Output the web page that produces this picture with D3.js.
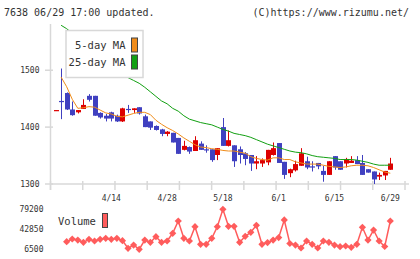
<!DOCTYPE html>
<html>
<head>
<meta charset="utf-8">
<script src="https://cdn.jsdelivr.net/npm/d3@7"></script>
<style>
body { margin: 0; background: #fff; }
text { font-family: "DejaVu Sans Mono", monospace; fill: #333; }
</style>
</head>
<body>
<script>
// trading days 2020/3/31 - 6/29
var dates = ["3/31","4/1","4/2","4/3","4/6","4/7","4/8","4/9","4/10","4/13",
  "4/14","4/15","4/16","4/17","4/20","4/21","4/22","4/23","4/24","4/27",
  "4/28","4/30","5/1","5/7","5/8","5/11","5/12","5/13","5/14","5/15",
  "5/18","5/19","5/20","5/21","5/22","5/25","5/26","5/27","5/28","5/29",
  "6/1","6/2","6/3","6/4","6/5","6/8","6/9","6/10","6/11","6/12",
  "6/15","6/16","6/17","6/18","6/19","6/22","6/23","6/24","6/25","6/26",
  "6/29"];
var labelDates = ["4/14","4/28","5/18","6/1","6/15","6/29"];

var open  = [1429,1446,1460,1431,1426,1432,1455,1455,1425,1420,1426,1420,1410,1432,1430,1435,1419,1410,1402,1396,
             1388,1390,1381,1360,1365,1358,1371,1361,1361,1351,1400,1367,1368,1361,1354,1351,1336,1336,1338,1351,
             1372,1339,1319,1324,1332,1340,1331,1337,1323,1316,1349,1340,1336,1337,1342,1337,1326,1322,1313,1315,1325];
var high  = [1430,1503,1461,1445,1430,1449,1458,1455,1426,1423,1427,1422,1434,1439,1433,1435,1422,1410,1403,1397,
             1393,1390,1381,1376,1366,1384,1375,1368,1361,1363,1416,1394,1368,1366,1356,1351,1349,1345,1360,1373,
             1372,1339,1327,1341,1363,1348,1340,1337,1332,1340,1349,1340,1346,1349,1349,1351,1326,1322,1320,1323,1346];
var low   = [1429,1414,1430,1420,1424,1432,1445,1420,1415,1410,1410,1409,1409,1425,1425,1422,1400,1395,1394,1384,
             1384,1373,1353,1359,1353,1358,1360,1355,1339,1342,1367,1366,1330,1336,1333,1323,1326,1330,1333,1350,
             1337,1309,1312,1322,1332,1326,1322,1326,1304,1316,1325,1325,1329,1337,1335,1316,1320,1300,1307,1307,1325];
var close = [1430,1445,1431,1421,1430,1439,1448,1420,1417,1415,1415,1410,1433,1431,1433,1424,1400,1399,1395,1388,
             1392,1373,1353,1367,1357,1377,1360,1359,1342,1363,1367,1377,1340,1351,1344,1336,1340,1342,1360,1363,
             1337,1316,1326,1335,1354,1329,1329,1331,1316,1340,1329,1325,1344,1341,1335,1316,1320,1308,1316,1323,1336];

var ma5 = [null,1488,1471,1449,1433,1434,1436,1435,1430,1425,1423,1419,1418,1421,1424,1426,1426,1422,1412,1405,
           1399,1394,1388,1381,1375,1369,1365,1364,1362,1361,1359,1358,1358,1356,1354,1348,1345,1343,1342,1346,
           1346,1343,1343,1339,1337,1335,1335,1335,1333,1331,1330,1329,1330,1332,1333,1333,1332,1329,1325,1321,1319];
var ma25 = [null,1579,1573,1565,1557,1549,1541,1533,1525,1518,1509,1501,1493,1487,1482,1477,1470,1462,1454,1446,
            1441,1433,1428,1420,1414,1411,1408,1406,1404,1400,1396,1393,1389,1387,1385,1382,1378,1374,1370,1367,
            1364,1361,1358,1356,1355,1353,1350,1348,1347,1346,1345,1343,1343,1343,1342,1340,1338,1335,1333,1333,1333];

var volume = [null,null,19000,24000,22100,17900,23400,20300,23400,25300,23400,25300,20900,6900,12900,5000,22100,17900,28200,17900,
              20300,34500,57100,25300,20300,46600,14200,14200,25300,46600,78600,47400,47400,17900,29000,36300,49200,14200,17500,22100,
              26700,59000,15700,12900,7400,20300,14200,7400,20300,17900,12900,9800,11100,8700,14200,45500,22100,40500,20300,10200,57100];

var priceTicks = [1300, 1400, 1500];
var volumeTicks = [6500, 42850, 79200];

var upColor = "#dd0000";
var downColor = "#4040c0";
var ma5Color = "#f08c1a";
var ma25Color = "#12a012";
var volColor = "#ff5c5c";
var axisColor = "#d8d8d8";

var width = 420, height = 259;

var svg = d3.select("body").append("svg")
  .attr("width", width)
  .attr("height", height);

var x = d3.scaleLinear().domain([0, dates.length - 1]).range([55.5, 390.3]);
var y = d3.scaleLinear().domain([1300, 1579.5]).range([184, 25]);
var vy = d3.scaleLinear().domain([6500, 79200]).range([248.5, 209]);
// decorative tick marks under the price panel
var gx = d3.scaleLinear().domain([0, 11]).range([50.5, 405]);

// header
svg.append("text").attr("x", 4).attr("y", 16).attr("font-size", 10).text("7638 06/29 17:00 updated.");
svg.append("text").attr("x", 409).attr("y", 16).attr("font-size", 10).attr("text-anchor", "end")
  .text("(C)https://www.rizumu.net/");

// axes
svg.append("line").attr("x1", 50.5).attr("x2", 50.5).attr("y1", 24).attr("y2", 190)
  .attr("stroke", axisColor).attr("stroke-width", 1.5);
svg.append("line").attr("x1", 50).attr("x2", 409).attr("y1", y(1300)).attr("y2", y(1300))
  .attr("stroke", axisColor).attr("stroke-width", 1.5);

d3.range(12).forEach(function(i) {
  svg.append("line").attr("x1", gx(i)).attr("x2", gx(i)).attr("y1", 181).attr("y2", 190)
    .attr("stroke", axisColor).attr("stroke-width", 1.5);
});

priceTicks.forEach(function(t) {
  svg.append("line").attr("x1", 45).attr("x2", 53).attr("y1", y(t)).attr("y2", y(t))
    .attr("stroke", axisColor).attr("stroke-width", 1.5);
  svg.append("text").attr("x", 39.5).attr("y", y(t) + 3).attr("font-size", 8)
    .attr("text-anchor", "end").attr("letter-spacing", 0).text(t);
});

labelDates.forEach(function(d) {
  var i = dates.indexOf(d);
  svg.append("text").attr("x", x(i)).attr("y", 200.5).attr("font-size", 8)
    .attr("text-anchor", "middle").text(d);
});

// candles
var candles = svg.append("g");
dates.forEach(function(d, i) {
  var up = close[i] >= open[i];
  var col = up ? upColor : downColor;
  var cx = Math.round(x(i)) + 0.5;
  candles.append("line")
    .attr("x1", cx).attr("x2", cx)
    .attr("y1", y(high[i])).attr("y2", y(low[i]))
    .attr("stroke", col).attr("stroke-width", 1);
  var top = y(Math.max(open[i], close[i]));
  var bot = y(Math.min(open[i], close[i]));
  candles.append("rect")
    .attr("x", cx - 2.5).attr("width", 5)
    .attr("y", top).attr("height", Math.max(bot - top, 1.2))
    .attr("fill", col);
});

// moving averages
var line = d3.line()
  .defined(function(d) { return d != null; })
  .x(function(d, i) { return x(i); })
  .y(function(d) { return y(d); });

svg.append("path").datum(ma25).attr("d", line)
  .attr("fill", "none").attr("stroke", ma25Color).attr("stroke-width", 1);
svg.append("path").datum(ma5).attr("d", line)
  .attr("fill", "none").attr("stroke", ma5Color).attr("stroke-width", 1);

// legend
svg.append("rect").attr("x", 66).attr("y", 30.5).attr("width", 77).attr("height", 47)
  .attr("fill", "#fff").attr("stroke", "#d8d8d8").attr("stroke-width", 1.5);
var legendItems = [["5-day MA", ma5Color], ["25-day MA", ma25Color]];
legendItems.forEach(function(it, k) {
  var cy = 45 + k * 17;
  svg.append("text").attr("x", 125.5).attr("y", cy + 3.5).attr("font-size", 10.5)
    .attr("text-anchor", "end").text(it[0]);
  svg.append("rect").attr("x", 131.5).attr("y", cy - 7).attr("width", 6).attr("height", 14)
    .attr("fill", it[1]).attr("stroke", "#444").attr("stroke-width", 1);
});

// volume
volumeTicks.forEach(function(t) {
  svg.append("text").attr("x", 43.5).attr("y", vy(t) + 3).attr("font-size", 8)
    .attr("text-anchor", "end").text(t);
});

svg.append("text").attr("x", 58).attr("y", 225).attr("font-size", 10.5).text("Volume");
svg.append("rect").attr("x", 102.5).attr("y", 213.5).attr("width", 5).attr("height", 14)
  .attr("fill", volColor).attr("stroke", "#444").attr("stroke-width", 1);

var vline = d3.line()
  .defined(function(d) { return d != null; })
  .x(function(d, i) { return x(i); })
  .y(function(d) { return vy(d); });

svg.append("path").datum(volume).attr("d", vline)
  .attr("fill", "none").attr("stroke", volColor).attr("stroke-width", 1.5);

var diamond = d3.symbol().type(d3.symbolSquare).size(26);
volume.forEach(function(v, i) {
  if (v == null) return;
  svg.append("path").attr("d", diamond)
    .attr("transform", "translate(" + x(i) + "," + vy(v) + ") rotate(45)")
    .attr("fill", volColor);
});
</script>
</body>
</html>
